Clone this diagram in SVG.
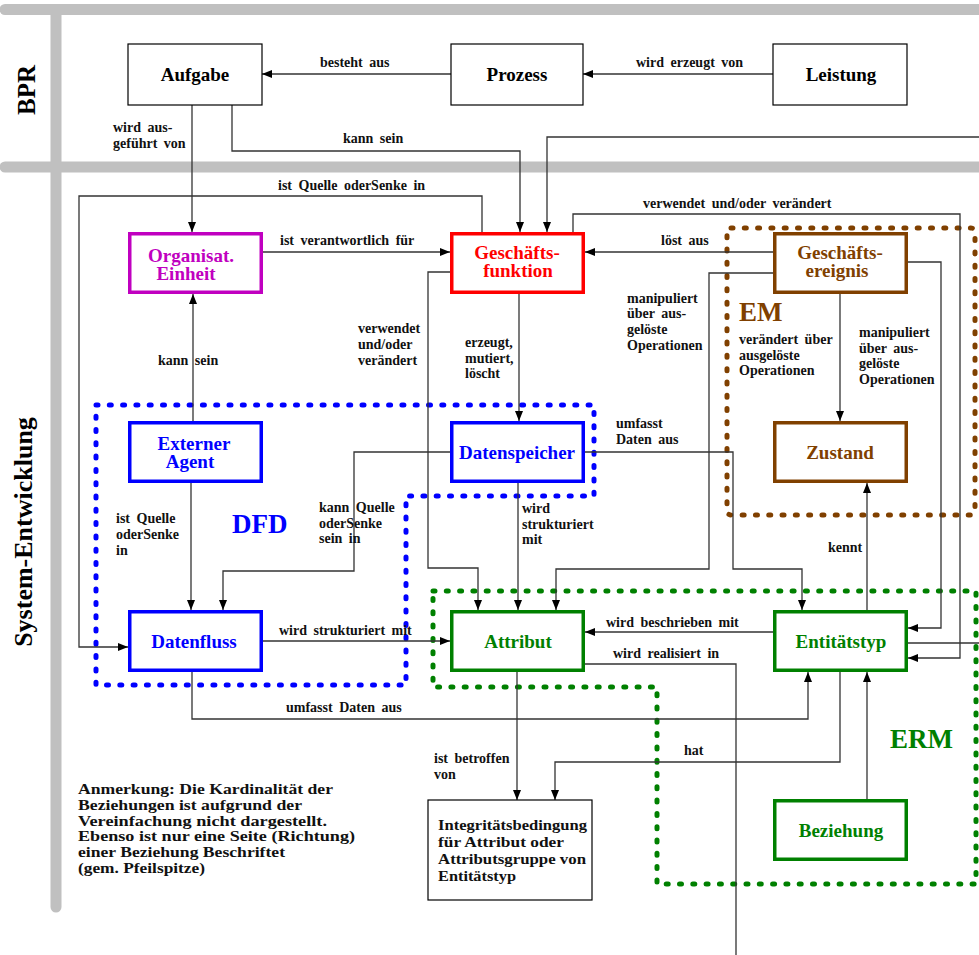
<svg xmlns="http://www.w3.org/2000/svg" width="979" height="955" viewBox="0 0 979 955">
<style>
.bar{stroke:#C0C0C0;stroke-width:11;stroke-linecap:round;fill:none}
.c{fill:none;stroke:#333;stroke-width:1.3}
.bk{fill:#fff;stroke:#000;stroke-width:1.2}
.nb{fill:#fff;stroke-width:3.5}
.t{font-family:"Liberation Serif","Times New Roman",serif;font-weight:bold}
.nt{font-size:19px;text-anchor:middle}
.lbl{font-size:14px;word-spacing:3px;fill:#111}
.big{font-size:27px}
.dot{fill:none;stroke-width:5;stroke-dasharray:2 11.3;stroke-linecap:round;stroke-linejoin:round}
.note{font-size:15px;fill:#111}
</style>
<defs>
<marker id="ah" viewBox="0 0 10 8" refX="10" refY="4" markerWidth="10" markerHeight="8" markerUnits="userSpaceOnUse" orient="auto"><path d="M0,0 L10,4 L0,8 z" fill="#000"/></marker>
</defs>

<g id="frame">
<line class="bar" x1="5" y1="9.5" x2="990" y2="9.5"/>
<line class="bar" x1="5" y1="167" x2="990" y2="167"/>
<line class="bar" x1="56" y1="9.5" x2="56" y2="907"/>
<text class="t" font-size="25" transform="translate(35,90) rotate(-90)" text-anchor="middle">BPR</text>
<text class="t" font-size="26" transform="translate(32,532) rotate(-90)" text-anchor="middle">System-Entwicklung</text>
</g>

<g id="groups">
<path id="dfd-box" class="dot" stroke="#0000FF" d="M96,405 H594 V496 H406 V685 H96 Z"/>
<rect id="em-box" class="dot" stroke="#804000" x="727" y="228" width="248" height="287" rx="4"/>
<path id="erm-box" class="dot" stroke="#008000" d="M433,591 H976 V884 H657 V687 H433 Z"/>
<text class="t big" x="232" y="533" fill="#0000FF" font-size="28">DFD</text>
<text class="t big" x="739" y="321" fill="#804000">EM</text>
<text class="t big" x="890" y="748" fill="#008000">ERM</text>
</g>

<g id="connectors">
<path class="c" marker-end="url(#ah)" d="M451,74 H262"/>
<path class="c" marker-end="url(#ah)" d="M773,74 H583"/>
<path class="c" marker-end="url(#ah)" d="M192,105 V232"/>
<path class="c" marker-end="url(#ah)" d="M232,105 V151 H520 V232"/>
<path class="c" marker-end="url(#ah)" d="M979,137 H547 V232"/>
<path class="c" marker-end="url(#ah)" d="M482,232 V196 H79 V647 H128"/>
<path class="c" marker-end="url(#ah)" d="M263,252 H450"/>
<path class="c" marker-end="url(#ah)" d="M450,272 H428 V568 H478 V610"/>
<path class="c" marker-end="url(#ah)" d="M519,294 V421"/>
<path class="c" marker-end="url(#ah)" d="M573,232 V214 H960 V658 H908"/>
<path class="c" marker-end="url(#ah)" d="M773,252 H585"/>
<path class="c" marker-end="url(#ah)" d="M773,273 H709 V569 H556 V610"/>
<path class="c" marker-end="url(#ah)" d="M840,294 V421"/>
<path class="c" marker-end="url(#ah)" d="M908,262 H941 V628 H908"/>
<path class="c" marker-end="url(#ah)" d="M585,452 H733 V569 H802 V610"/>
<path class="c" marker-end="url(#ah)" d="M450,452 H354 V571 H223 V610"/>
<path class="c" marker-end="url(#ah)" d="M518,483 V610"/>
<path class="c" marker-end="url(#ah)" d="M193,421 V294"/>
<path class="c" marker-end="url(#ah)" d="M191,483 V610"/>
<path class="c" marker-end="url(#ah)" d="M263,641 H450"/>
<path class="c" marker-end="url(#ah)" d="M192,672 V719 H808 V672"/>
<path class="c" marker-end="url(#ah)" d="M773,632 H585"/>
<path class="c" d="M585,664 H736 V955"/>
<path class="c" marker-end="url(#ah)" d="M517,672 V800"/>
<path class="c" marker-end="url(#ah)" d="M840,672 V762 H555 V800"/>
<path class="c" marker-end="url(#ah)" d="M867,610 V483"/>
<path class="c" marker-end="url(#ah)" d="M867,799 V672"/>
<path class="c" d="M908,643 H979"/>
</g>

<g id="labels" class="t lbl">
<text x="320" y="67">besteht aus</text>
<text x="636" y="67">wird erzeugt von</text>
<text x="113" y="132">wird aus-<tspan x="113" y="148">geführt von</tspan></text>
<text x="343" y="143">kann sein</text>
<text x="278" y="190">ist Quelle oderSenke in</text>
<text x="280" y="245">ist verantwortlich für</text>
<text x="643" y="208">verwendet und/oder verändert</text>
<text x="661" y="245">löst aus</text>
<text x="358" y="333">verwendet<tspan x="358" y="349">und/oder</tspan><tspan x="358" y="365">verändert</tspan></text>
<text x="465" y="347">erzeugt,<tspan x="465" y="363">mutiert,</tspan><tspan x="465" y="378">löscht</tspan></text>
<text x="627" y="303">manipuliert<tspan x="627" y="318">über aus-</tspan><tspan x="627" y="334">gelöste</tspan><tspan x="627" y="350">Operationen</tspan></text>
<text x="739" y="344">verändert über<tspan x="739" y="360">ausgelöste</tspan><tspan x="739" y="375">Operationen</tspan></text>
<text x="859" y="337">manipuliert<tspan x="859" y="353">über aus-</tspan><tspan x="859" y="368">gelöste</tspan><tspan x="859" y="384">Operationen</tspan></text>
<text x="616" y="428">umfasst<tspan x="616" y="444">Daten aus</tspan></text>
<text x="158" y="365">kann sein</text>
<text x="116" y="523">ist Quelle<tspan x="116" y="539">oderSenke</tspan><tspan x="116" y="555">in</tspan></text>
<text x="319" y="512">kann Quelle<tspan x="319" y="528">oderSenke</tspan><tspan x="319" y="543">sein in</tspan></text>
<text x="522" y="513">wird<tspan x="522" y="529">strukturiert</tspan><tspan x="522" y="544">mit</tspan></text>
<text x="828" y="552">kennt</text>
<text x="279" y="635">wird strukturiert mit</text>
<text x="606" y="627">wird beschrieben mit</text>
<text x="613" y="658">wird realisiert in</text>
<text x="286" y="712">umfasst Daten aus</text>
<text x="434" y="763">ist betroffen<tspan x="434" y="779">von</tspan></text>
<text x="684" y="755">hat</text>
</g>

<g id="n-aufgabe"><rect class="bk" x="128" y="44" width="134" height="61"/><text class="t nt" x="195" y="81">Aufgabe</text></g>
<g id="n-prozess"><rect class="bk" x="451" y="44" width="132" height="61"/><text class="t nt" x="517" y="81">Prozess</text></g>
<g id="n-leistung"><rect class="bk" x="773" y="44" width="134" height="61"/><text class="t nt" x="841" y="81">Leistung</text></g>

<g id="n-org"><rect class="nb" stroke="#C000C0" x="129.75" y="233.75" width="131.5" height="58.5"/><text class="t nt" fill="#C000C0" x="191" y="262">Organisat.<tspan x="186" y="280">Einheit</tspan></text></g>
<g id="n-gf"><rect class="nb" stroke="#FF0000" x="451.75" y="233.75" width="131.5" height="58.5"/><text class="t nt" fill="#FF0000" x="517" y="259">Geschäfts-<tspan x="518" y="277">funktion</tspan></text></g>
<g id="n-ge"><rect class="nb" stroke="#804000" x="774.75" y="233.75" width="131.5" height="58.5"/><text class="t nt" fill="#804000" x="840" y="259">Geschäfts-<tspan x="837" y="277">ereignis</tspan></text></g>
<g id="n-agent"><rect class="nb" stroke="#0000FF" x="129.75" y="422.75" width="131.5" height="58.5"/><text class="t nt" fill="#0000FF" x="194" y="450">Externer<tspan x="190" y="468">Agent</tspan></text></g>
<g id="n-ds"><rect class="nb" stroke="#0000FF" x="451.75" y="422.75" width="131.5" height="58.5"/><text class="t nt" fill="#0000FF" x="517" y="459">Datenspeicher</text></g>
<g id="n-zustand"><rect class="nb" stroke="#804000" x="774.75" y="422.75" width="131.5" height="58.5"/><text class="t nt" fill="#804000" x="840" y="459">Zustand</text></g>
<g id="n-df"><rect class="nb" stroke="#0000FF" x="129.75" y="611.75" width="131.5" height="58.5"/><text class="t nt" fill="#0000FF" x="194" y="648">Datenfluss</text></g>
<g id="n-attr"><rect class="nb" stroke="#008000" x="451.75" y="611.75" width="131.5" height="58.5"/><text class="t nt" fill="#008000" x="518" y="648">Attribut</text></g>
<g id="n-et"><rect class="nb" stroke="#008000" x="774.75" y="611.75" width="131.5" height="58.5"/><text class="t nt" fill="#008000" x="841" y="648">Entitätstyp</text></g>
<g id="n-bez"><rect class="nb" stroke="#008000" x="774.75" y="800.75" width="131.5" height="58.5"/><text class="t nt" fill="#008000" x="841" y="837">Beziehung</text></g>

<g id="n-integ"><rect class="bk" x="428" y="800" width="164" height="100"/>
<text class="t note"><tspan x="438" y="830" textLength="149" lengthAdjust="spacingAndGlyphs">Integritätsbedingung</tspan><tspan x="438" y="847" textLength="126" lengthAdjust="spacingAndGlyphs">für Attribut oder</tspan><tspan x="438" y="864" textLength="148" lengthAdjust="spacingAndGlyphs">Attributsgruppe von</tspan><tspan x="438" y="881" textLength="78" lengthAdjust="spacingAndGlyphs">Entitätstyp</tspan></text>
</g>

<g id="note">
<text class="t note"><tspan x="78" y="794" textLength="255" lengthAdjust="spacingAndGlyphs">Anmerkung: Die Kardinalität der</tspan><tspan x="78" y="810" textLength="224" lengthAdjust="spacingAndGlyphs">Beziehungen ist aufgrund der</tspan><tspan x="78" y="826" textLength="249" lengthAdjust="spacingAndGlyphs">Vereinfachung nicht dargestellt.</tspan><tspan x="78" y="841" textLength="277" lengthAdjust="spacingAndGlyphs">Ebenso ist nur eine Seite (Richtung)</tspan><tspan x="78" y="857" textLength="207" lengthAdjust="spacingAndGlyphs">einer Beziehung Beschriftet</tspan><tspan x="78" y="873" textLength="127" lengthAdjust="spacingAndGlyphs">(gem. Pfeilspitze)</tspan></text>
</g>
</svg>
